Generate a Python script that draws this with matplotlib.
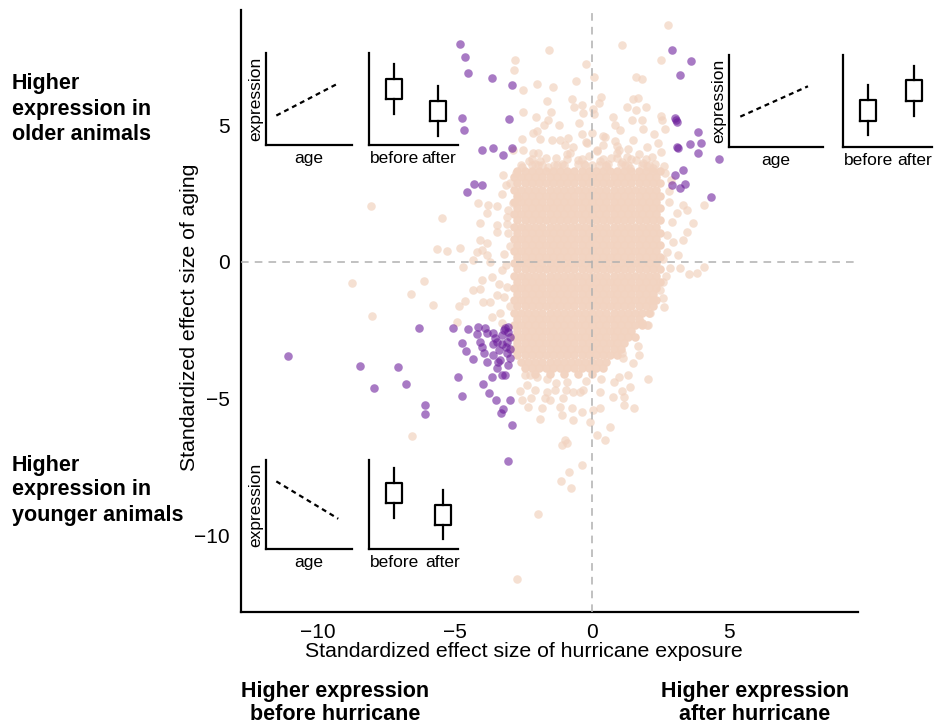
import matplotlib
matplotlib.use("Agg")
import matplotlib.pyplot as plt

plt.rcParams['font.family'] = ['Liberation Sans', 'DejaVu Sans']

# ---------------- data ----------------
# dense core of the peach cloud: (y, list of x) rows
ROW_A = [-2.85, -2.59, -2.33, -2.07, -1.81, -1.55, -1.29, -1.03, -0.77, -0.51, -0.25,
         0.01, 0.27, 0.53, 0.79, 1.05, 1.31, 1.57, 1.83, 2.09, 2.35]
ROW_B = [-2.72, -2.46, -2.20, -1.94, -1.68, -1.42, -1.16, -0.90, -0.64, -0.38, -0.12,
         0.14, 0.40, 0.66, 0.92, 1.18, 1.44, 1.70, 1.96, 2.22, 2.48]
core_rows = [
    (3.33, ROW_B), (3.10, ROW_A), (2.88, ROW_B), (2.65, ROW_A), (2.43, ROW_B),
    (2.20, ROW_A), (1.98, ROW_B), (1.75, ROW_A), (1.53, ROW_B), (1.30, ROW_A),
    (1.08, ROW_B), (0.85, ROW_A), (0.63, ROW_B), (0.40, ROW_A), (0.18, ROW_B),
    (-0.05, ROW_A), (-0.27, ROW_B), (-0.50, ROW_A), (-0.72, ROW_B), (-0.95, ROW_A),
    (-1.17, ROW_B[:-1]), (-1.40, ROW_A), (-1.62, ROW_B[:-1]), (-1.85, ROW_A[:-1]),
    (-2.07, ROW_B[:-3]), (-2.30, ROW_A[:-2]), (-2.52, ROW_B[:-4]), (-2.75, ROW_A[:-3]),
    (-2.97, ROW_B[:-5]), (-3.20, ROW_A[:-5]), (-3.42, ROW_B[:-6]),
    (-3.65, ROW_A[1:-7]), (-3.87, ROW_B[1:-8]),
    (-4.10, [-2.07, -1.55, -1.03, -0.51, 0.01]),
]

# scattered peach points outside the core
peach_x = [
    2.77, 1.09, -1.57, -2.81, -2.85, -0.22, 2.52, 1.61, 1.82, 0.07, -0.58, -2.01, -2.52, -1.42,
    -1.64, -0.73, -0.36, -0.66, 0.33, 0.26, 0.04, 0.07, -0.33, -2.52, -2.04, -1.50, -1.61, -1.75,
    -1.20, -0.47, -0.36, 0.00, -2.15, -2.55, -1.46, -1.17, -0.88, -1.90, 0.84, 1.02, 1.28, 1.50,
    1.68, 1.61, 1.97, 1.82, 1.46, 2.52, 2.55, 2.66, 2.26, 1.86, 1.50, 0.84, 0.47, 0.40, 0.18,
    -0.18, 2.01, 2.41, 2.52, 2.19, 2.63, 2.66, 2.23, 1.86, 1.28, 0.91, -2.88, -2.52, -2.15, -1.97,
    -2.55, -2.77, -1.97, -1.61,
    -1.30, -0.90, -0.50, -0.10, 0.30, 0.70, 1.10, 1.60, -1.10, 0.00, 0.50, 1.40, -0.70, 0.90,
    -2.30, 2.00, -1.90, -2.20, -1.40, -0.30, 0.60, 1.20, 2.30, -0.80, 0.20, 1.00, 1.70,
    -1.00, 0.40, -2.00, 1.30, -0.20, 0.75,
    -2.59, -2.07, -1.81, -1.29, -1.03, -0.51, -0.25, 0.27, 0.53, 1.05, 1.31, 1.83, 2.09,
    -2.20, -1.68, -0.90, -0.38, 0.40, 0.92, 1.44, 1.96,
    # left side
    -8.07, -8.76, -8.03, -6.57, -5.47, -6.61, -6.13, -5.80, -5.66, -5.29, -4.82, -4.71, -4.85,
    -4.64, -4.93, -4.16, -3.80, -3.47, -3.83, -4.09, -3.47, -3.47, -3.07, -4.09, -3.83, -4.01,
    -3.83, -4.20, -4.34, -3.72, -4.01, -3.65, -4.34, -4.09, -3.98, -3.72, -3.47, -3.65, -3.36,
    -3.28, -3.10, -2.88, -2.70, -3.14,
    -3.20, -3.30, -3.10, -3.20, -3.00, -3.10, -3.30, -3.00, -3.40, -3.00, -3.25, -3.15, -3.05,
    # right side
    3.32, 3.47, 4.09, 3.10, 2.92, 3.69, 3.47, 3.32, 2.96, 2.74, 3.14, 2.85, 3.21, 3.54, 3.83,
    4.09, 2.59, 2.48, 2.59, 2.23, 2.63, 2.12, 1.82, 2.04, 2.80, 2.90, 2.75, 2.70, 2.80, 2.60,
    # bottom
    -2.63, -2.37, -2.08, -2.55, -2.23, -2.34, -1.90, -1.82, -1.64, -1.72, -1.35, -1.53, -1.17,
    -1.09, -0.95, -1.06, -0.69, -0.73, -0.69, -0.44, -0.33, -0.36, -0.07, 0.04, 0.29, 0.18, 0.47,
    0.66, -0.99, -1.09, -0.36, -0.84, -1.13, -0.77, -0.91, -1.97, -2.74, 0.77, 1.09, 1.17, 1.39,
    1.17, 1.53, 2.04, 1.31, 0.29, 0.33, -1.64, -2.01, -2.26, -2.45, 1.68, 1.72, 1.50, 1.13, 1.09,
    2.01, 1.82, -0.90, -0.20, 0.80, 1.00, -1.30,
]
peach_y = [
    8.68, 7.95, 7.77, 7.40, 7.03, 7.25, 7.40, 6.78, 6.70, 6.78, 6.63, 6.52, 6.30, 6.41,
    5.90, 5.97, 5.75, 5.68, 6.04, 5.82, 5.60, 5.42, 5.46, 5.49, 5.31, 5.49, 5.20, 5.02,
    5.02, 5.09, 4.69, 4.73, 4.73, 4.51, 4.47, 4.47, 4.54, 4.51, 5.02, 4.84, 5.68, 5.97,
    6.01, 5.57, 5.68, 5.20, 5.20, 5.35, 5.20, 4.87, 4.69, 4.87, 4.47, 4.43, 4.58, 4.29, 4.10,
    4.36, 4.21, 4.36, 4.03, 3.85, 3.52, 3.26, 3.44, 3.63, 3.85, 3.99, 4.10, 4.10, 3.99, 3.99,
    3.48, 3.26, 3.55, 3.48,
    3.80, 3.95, 3.75, 3.90, 3.70, 3.80, 3.65, 3.75, 3.60, 3.55, 3.50, 3.45, 4.20, 4.25,
    3.70, 3.50, 3.70, 3.55, 3.55, 3.60, 3.60, 3.55, 3.60, 4.00, 4.05, 4.10, 3.95,
    4.30, 4.60, 4.80, 4.15, 4.40, 5.30,
    3.56, 3.58, 3.55, 3.57, 3.56, 3.58, 3.55, 3.57, 3.56, 3.58, 3.55, 3.57, 3.56,
    3.78, 3.80, 3.77, 3.79, 3.78, 3.80, 3.77, 3.79,
    # left side
    2.05, -0.77, -1.98, -6.37, 1.61, -1.17, -0.70, -1.58, 0.48, 0.40, 0.51, -0.18, -1.61,
    -1.43, -2.20, 2.16, 2.09, 2.05, 1.79, 1.43, 1.36, 1.10, 1.06, 0.81, 0.70, 0.44,
    0.26, 0.37, 0.07, 0.00, -0.66, -0.55, -1.03, -0.99, -1.47, -1.47, -1.21, -2.01, -1.87,
    -2.23, 1.65, 2.16, 2.38, 2.82,
    0.30, -0.30, -0.90, -1.30, 0.60, 1.40, 2.50, -1.60, -0.80, 2.90, 3.20, -0.10, 1.90,
    # right side
    2.09, 1.90, 2.09, 1.79, 1.47, 1.43, 1.10, 0.81, 0.73, 0.37, 0.26, -0.22, -0.22, -0.44, -0.40,
    -0.18, -0.73, -1.03, -1.32, -1.39, -1.65, -1.87, -2.23, -2.31, 2.60, 3.00, 1.00, -0.50, 2.20, 0.10,
    # bottom
    -4.73, -4.51, -4.69, -5.05, -4.98, -5.31, -5.75, -5.35, -4.76, -4.98, -4.69, -5.05, -5.31,
    -5.60, -4.69, -4.98, -4.76, -5.35, -5.79, -4.76, -4.69, -5.49, -5.86, -5.42, -5.35, -6.34, -6.52,
    -6.04, -6.52, -6.70, -7.44, -7.69, -8.02, -8.28, -6.63, -9.23, -11.61, -4.95, -4.73, -4.95, -4.58,
    -5.24, -5.35, -4.29, -4.14, -4.76, -4.29, -4.29, -4.21, -4.14, -4.14, -3.08, -3.41, -3.70, -3.52, -3.33,
    -2.31, -2.23, -4.40, -4.35, -4.40, -4.20, -4.45,
]

# purple (significant in both) points
purple_x = [
    -4.82, -4.64, -4.53, -3.65, -2.92, -3.03, -4.74, -4.67, -4.01, -3.61, -3.25, -2.92, -4.01,
    -4.31, -4.56,
    2.92, 3.61, 3.21, 3.03, 3.10, 3.14, 3.87, 3.58, 3.98, 3.87, 4.64, 3.03, 3.32, 2.92, 3.21,
    3.39, 4.34, 3.08, 3.12,
    -11.09, -8.47, -7.96, -7.08, -6.79, -6.09, -6.09, -6.31, -5.07, -4.53, -4.89, -4.74, -4.74,
    -4.60, -4.34, -4.16, -4.20, -4.09, -4.01, -3.94, -3.83, -3.83, -3.61, -3.47, -3.28, -3.18,
    -3.07, -2.99, -3.10, -3.39, -3.61, -3.43, -3.47, -3.10, -3.07, -3.28, -3.65, -3.18, -3.98,
    -3.76, -3.50, -2.99, -3.25, -3.32, -2.92, -3.07,
    -3.20, -3.30, -3.00, -3.60, -3.90, -3.15, -3.05, -3.35, -3.55, -3.00,
]
purple_y = [
    7.99, 7.51, 6.92, 6.74, 6.48, 5.24, 5.27, 4.84, 4.10, 4.18, 3.92, 4.18, 2.82,
    2.86, 2.56,
    7.77, 7.36, 6.85, 5.27, 5.13, 4.18, 4.76, 4.32, 4.36, 3.99, 3.77, 3.19, 3.37, 2.82, 2.71,
    2.86, 2.38, 5.20, 4.20,
    -3.44, -3.81, -4.62, -3.85, -4.47, -5.24, -5.57, -2.42, -2.42, -2.45, -4.21, -4.91, -2.97,
    -3.26, -3.55, -2.38, -2.64, -2.93, -3.11, -3.33, -3.66, -2.60, -2.60, -2.93, -2.67, -2.42,
    -2.38, -2.75, -2.93, -3.22, -3.41, -3.66, -3.88, -3.33, -3.77, -4.14, -4.21, -4.14, -4.47,
    -4.80, -5.05, -5.05, -5.38, -5.53, -5.97, -7.29,
    -2.50, -3.00, -3.50, -3.00, -2.40, -3.10, -2.55, -3.60, -2.80, -3.20,
]

x_ticks = [-10, -5, 0, 5]
y_ticks = [-10, -5, 0, 5]

# inset schematic values (inset units 0..1)
line_x = [0.12, 0.84]
line_up_y = [0.32, 0.67]
line_up_y_right = [0.33, 0.66]
line_down_y = [0.76, 0.34]
box_labels = ['before', 'after']
# (whislo, q1, q3, whishi)
box_top_left = [(0.34, 0.50, 0.72, 0.88), (0.10, 0.26, 0.48, 0.64)]
box_top_right = [(0.13, 0.28, 0.51, 0.67), (0.34, 0.50, 0.73, 0.88)]
box_bottom_left = [(0.35, 0.52, 0.74, 0.91), (0.11, 0.27, 0.49, 0.66)]

# ---------------- figure ----------------
W, H = 936, 725
fig = plt.figure(figsize=(W / 100, H / 100), dpi=100)


def px_rect(l, t, r, b):
    return [l / W, 1 - b / H, (r - l) / W, (b - t) / H]


ax = fig.add_axes(px_rect(241, 10, 858, 612))
ax.set_xlim(-12.81, 9.71)
ax.set_ylim(-12.82, 9.23)

PEACH = '#F2D3C0'
PURPLE = '#6A1B9A'
S = 38

cx, cy = [], []
for yv, xs in core_rows:
    for xv in xs:
        cx.append(xv)
        cy.append(yv)
ax.scatter(cx, cy, s=S, color=PEACH, alpha=0.96, linewidths=0, zorder=1)
ax.scatter(peach_x, peach_y, s=S, color=PEACH, alpha=0.7, linewidths=0, zorder=1)
ax.scatter(purple_x, purple_y, s=S, color=PURPLE, alpha=0.58, linewidths=0, zorder=2)

ax.axvline(0, color='#b0b0b0', lw=1.1, ls=(0, (5, 4)), zorder=3)
ax.axhline(0, color='#b0b0b0', lw=1.1, ls=(0, (5, 4)), zorder=3)

for side in ['top', 'right']:
    ax.spines[side].set_visible(False)
for side in ['left', 'bottom']:
    ax.spines[side].set_linewidth(1.6)
ax.set_xticks(x_ticks)
ax.set_yticks(y_ticks)
ax.tick_params(length=0, pad=8, labelsize=15)
ax.set_xlabel('Standardized effect size of hurricane exposure', fontsize=15.3)
ax.xaxis.set_label_coords(0.459, -0.050)
ax.set_ylabel('Standardized effect size of aging', fontsize=15.3)
ax.yaxis.set_label_coords(-0.068, 0.49)


def inset(l, t, r, b):
    a = fig.add_axes(px_rect(l, t, r, b))
    a.patch.set_alpha(0)
    for side in ['top', 'right']:
        a.spines[side].set_visible(False)
    for side in ['left', 'bottom']:
        a.spines[side].set_linewidth(1.6)
    return a


def line_inset(l, t, r, b, ys):
    a = inset(l, t, r, b)
    a.plot(line_x, ys, color='black', lw=1.6, ls=(0, (2.2, 1.8)))
    a.set_xlim(0, 1)
    a.set_ylim(0, 1)
    a.set_xticks([])
    a.set_yticks([])
    a.set_xlabel('age', fontsize=12.5, labelpad=4)
    a.set_ylabel('expression', fontsize=12.5, labelpad=2)
    return a


def box_inset(l, t, r, b, boxes, positions):
    a = inset(l, t, r, b)
    stats = []
    for lbl, (lo, q1, q3, hi) in zip(box_labels, boxes):
        stats.append(dict(label=lbl, whislo=lo, q1=q1, med=(q1 + q3) / 2, q3=q3, whishi=hi))
    a.bxp(stats, positions=positions, widths=0.36, showfliers=False, showcaps=False,
          boxprops=dict(color='black', lw=1.6), whiskerprops=dict(color='black', lw=1.6),
          medianprops=dict(lw=0))
    a.set_xlim(0.43, 2.45)
    a.set_ylim(0, 1)
    a.set_yticks([])
    a.tick_params(axis='x', length=0, pad=4, labelsize=12.5)
    return a


line_inset(266, 53, 352, 145, line_up_y)
box_inset(369, 53, 458, 145, box_top_left, [1, 2])
line_inset(729, 55, 823, 147, line_up_y_right)
box_inset(843, 55, 932, 147, box_top_right, [1, 2.05])
line_inset(266, 460, 352, 549, line_down_y)
box_inset(369, 460, 458, 549, box_bottom_left, [1, 2.1])

bold = dict(fontsize=15.5, fontweight='bold', linespacing=1.25)
fig.text(12 / W, 1 - 109 / H, 'Higher\nexpression in\nolder animals', ha='left', va='center', **bold)
fig.text(12 / W, 1 - 490 / H, 'Higher\nexpression in\nyounger animals', ha='left', va='center', **bold)
fig.text(335 / W, 1 - 703 / H, 'Higher expression\nbefore hurricane', ha='center', va='center',
         fontsize=15.5, fontweight='bold', linespacing=1.12)
fig.text(755 / W, 1 - 703 / H, 'Higher expression\nafter hurricane', ha='center', va='center',
         fontsize=15.5, fontweight='bold', linespacing=1.12)

fig.savefig('out.png', dpi=100)
